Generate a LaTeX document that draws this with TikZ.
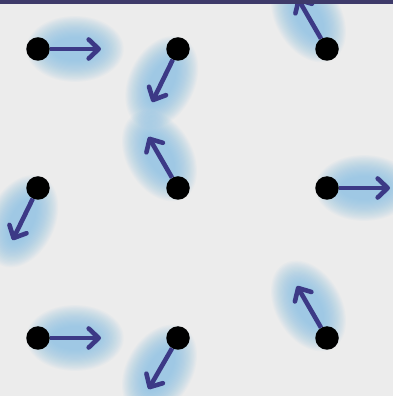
\documentclass[tikz,border=0pt]{standalone}
\usetikzlibrary{arrows.meta}
\usetikzlibrary{calc}

\definecolor{bgcol}{HTML}{ECECEC}
\definecolor{barcol}{HTML}{3E3A6A}
\definecolor{spincol}{HTML}{3C3986}
\definecolor{glowcol}{HTML}{86C0E4}

\tikzset{
  site/.style={circle, fill=black, inner sep=0pt, minimum size=23.5pt},
  spin/.style={draw=spincol, line width=4.6pt, line cap=butt,
    -{Straight Barb[length=10pt, width=19pt, line cap=round, line join=round]}},
  glow/.style={fill=glowcol, opacity=0.06},
}

\begin{document}
\begin{tikzpicture}[x=1pt, y=1pt, line join=round]

  % canvas
  \clip (0,0) rectangle (393,396);
  \fill[bgcol] (0,0) rectangle (393,396);

  % soft halo behind every spin
  \foreach \name/\x/\y/\ang/\len in {a/38/347/0/63, b/178/347/244/59, c/327/347/120/59,
                                     d/38/208/244/58, e/178/208/120/59, f/327/208/0/63,
                                     g/38/58/0/63, h/178/58/240/59, i/327/58/120/60}{
    \coordinate (\name-g) at ($(\x,\y)+(\ang:37)$);
    \foreach \k in {0,...,19}
      \fill[glow, rotate around={\ang:(\name-g)}] (\name-g)
        ellipse [x radius={24+1.3*\k}, y radius={12+1.1*\k}];
  }

  % lattice sites and their spins
  \foreach \name/\x/\y/\ang/\len in {a/38/347/0/63, b/178/347/244/59, c/327/347/120/59,
                                     d/38/208/244/58, e/178/208/120/59, f/327/208/0/63,
                                     g/38/58/0/63, h/178/58/240/59, i/327/58/120/60}{
    \node[site] (\name) at (\x,\y) {};
    \coordinate (\name-tip) at ($(\name)+(\ang:\len)$);
    \draw[spin] (\name) -- (\name-tip);
  }

  % top bar
  \fill[barcol] (0,391.5) rectangle (393,396);

\end{tikzpicture}
\end{document}
